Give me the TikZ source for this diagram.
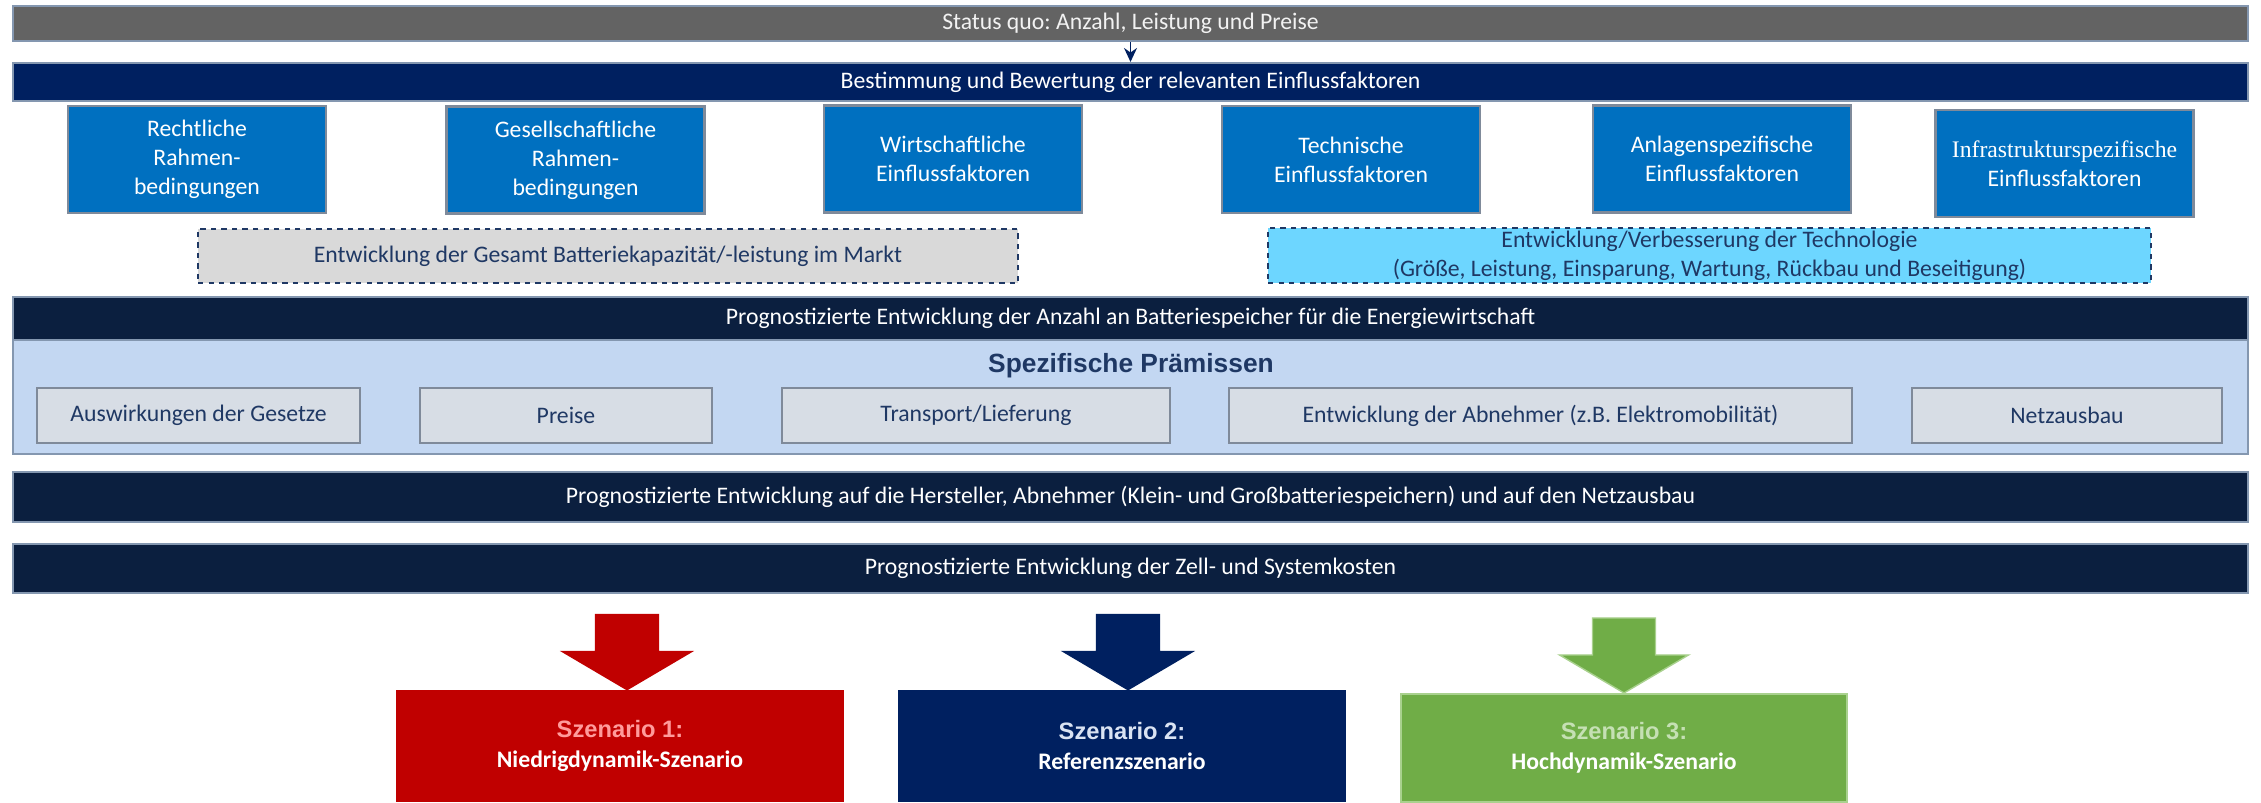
\documentclass[tikz,border=0pt]{standalone}
\usepackage{fontspec}
\setmainfont{Carlito}
\newfontfamily\arialfont{Liberation Sans}
\newfontfamily\timesfont{Liberation Serif}
\usetikzlibrary{positioning,arrows.meta,calc}
\frenchspacing
\definecolor{statusgray}{HTML}{636363}
\definecolor{barnavy}{HTML}{002060}
\definecolor{bardark}{HTML}{0B1F3F}
\definecolor{factorblue}{HTML}{0070C0}
\definecolor{edgeblue}{HTML}{8497B0}
\definecolor{edgegray}{HTML}{7F8A9A}
\definecolor{textnavy}{HTML}{1F3864}
\definecolor{techcyan}{HTML}{6DD6FF}
\definecolor{panelblue}{HTML}{C3D7F2}
\definecolor{premisegray}{HTML}{D7DDE5}
\definecolor{dashgray}{HTML}{D9D9D9}
\definecolor{szred}{HTML}{C00000}
\definecolor{szgreen}{HTML}{70AD47}
\definecolor{szgreenedge}{HTML}{A9D18E}
\definecolor{szpink}{HTML}{FF9B9B}
\definecolor{szpale}{HTML}{DAE3F3}
\definecolor{szlightgreen}{HTML}{C5E0B4}
\tikzset{
  bar/.style={
    shape = rectangle,
    draw = edgeblue,
    line width = 1.2pt,
    minimum width = 44.7cm,
    inner sep = 0pt,
    text = white,
    font = \fontsize{13.5}{16}\selectfont
  },
  factor/.style={
    shape = rectangle,
    draw = edgegray,
    line width = 1.2pt,
    fill = factorblue,
    minimum width = 5.16cm,
    minimum height = 2.14cm,
    inner sep = 0pt,
    align = center,
    text = white,
    font = \fontsize{13.5}{16.5}\selectfont
  },
  dashbox/.style={
    shape = rectangle,
    draw = textnavy,
    line width = 1.1pt,
    dashed,
    minimum height = 1.09cm,
    inner sep = 0pt,
    align = center,
    text = textnavy,
    font = \fontsize{13.5}{16.5}\selectfont
  },
  premise/.style={
    shape = rectangle,
    draw = edgegray,
    line width = 1.2pt,
    fill = premisegray,
    minimum height = 1.1cm,
    inner sep = 0pt,
    text = textnavy,
    font = \fontsize{13.5}{16}\selectfont
  },
  scenario/.style={
    shape = rectangle,
    minimum width = 8.96cm,
    minimum height = 2.24cm,
    inner sep = 0pt,
    align = center,
    text = white,
    font = \fontsize{13.5}{17}\selectfont\bfseries
  },
  arr/.style={
    -{Stealth[length=0.28cm, width=0.26cm]},
    draw = barnavy,
    line width = 0.9pt
  }
}

\begin{document}
\begin{tikzpicture}[x=0.02cm, y=-0.02cm]
  \useasboundingbox (0,0) rectangle (2261,802);
  \node[bar, fill=statusgray, minimum height=0.7cm, text=white!95!black] (status) at (1130.5,23.5) {Status quo: Anzahl, Leistung und Preise};
  \node[bar, fill=barnavy, minimum height=0.76cm] (best) at (1130.5,82) {Bestimmung und Bewertung der relevanten Einflussfaktoren};
  \draw[arr] (status) -- (best);
  \node[factor] (recht) at (197,159.5) {Rechtliche\\Rahmen-\\bedingungen};
  \node[factor] (gesell) at (575.5,160) {Gesellschaftliche\\Rahmen-\\bedingungen};
  \node[factor] (wirt) at (953,159) {Wirtschaftliche\\Einflussfaktoren};
  \node[factor] (tech) at (1351,159.5) {Technische\\Einflussfaktoren};
  \node[factor] (anlage) at (1722,159) {Anlagenspezifische\\Einflussfaktoren};
  \node[factor] (infra) at (2064.5,163.5) {{\timesfont Infrastrukturspezifische}\\Einflussfaktoren};
  \node[dashbox, fill=dashgray, minimum width=16.4cm] (gesamt) at (608,256) {Entwicklung der Gesamt Batteriekapazität/-leistung im Markt};
  \node[dashbox, fill=techcyan, minimum width=17.66cm] (techdev) at (1709.5,255.5) {Entwicklung/Verbesserung der Technologie\\(Größe, Leistung, Einsparung, Wartung, Rückbau und Beseitigung)};
  \node[bar, fill=bardark, minimum height=0.86cm] (anzahl) at (1130.5,318.5) {Prognostizierte Entwicklung der Anzahl an Batteriespeicher für die Energiewirtschaft};
  \node[bar, fill=panelblue, minimum height=2.28cm] (panel) at (1130.5,397) {};
  \node[font=\arialfont\bfseries\fontsize{15}{18}\selectfont, text=textnavy] (title) at (1131,366) {Spezifische Prämissen};
  \node[premise, minimum width=6.46cm] (gesetze) at (198.5,415.5) {Auswirkungen der Gesetze};
  \node[premise, minimum width=5.84cm] (preise) at (566,415.5) {Preise};
  \node[premise, minimum width=7.76cm] (transport) at (976,415.5) {Transport/Lieferung};
  \node[premise, minimum width=12.46cm] (abnehmer) at (1540.5,415.5) {Entwicklung der Abnehmer (z.B. Elektromobilität)};
  \node[premise, minimum width=6.2cm] (netz) at (2067,415.5) {Netzausbau};
  \node[bar, fill=bardark, minimum height=1cm] (hersteller) at (1130.5,497) {Prognostizierte Entwicklung auf die Hersteller, Abnehmer (Klein- und Großbatteriespeichern) und auf den Netzausbau};
  \node[bar, fill=bardark, minimum height=0.98cm] (kosten) at (1130.5,568.5) {Prognostizierte Entwicklung der Zell- und Systemkosten};
  \node[scenario, fill=szred] (s1) at (620,746) {{\arialfont\color{szpink}Szenario 1:}\\Niedrigdynamik-Szenario};
  \node[scenario, fill=barnavy] (s2) at (1122,746) {{\arialfont\color{szpale}Szenario 2:}\\Referenzszenario};
  \node[scenario, fill=szgreen, draw=szgreenedge, line width=1.2pt, minimum width=8.92cm, minimum height=2.16cm] (s3) at (1624,748) {{\arialfont\color{szlightgreen}Szenario 3:}\\Hochdynamik-Szenario};
  \foreach \s/\col/\edge/\dx in {s1/szred/szred/7, s2/barnavy/barnavy/6, s3/szgreen/szgreenedge/0}{
    \filldraw[fill=\col, draw=\edge, line width=0.8pt] ($(\s.north)+(\dx,0)$) -- ++(-64.5,-38) -- ++(33,0) -- ++(0,-37) -- ++(63,0) -- ++(0,37) -- ++(33,0) -- cycle;}
\end{tikzpicture}
\end{document}
